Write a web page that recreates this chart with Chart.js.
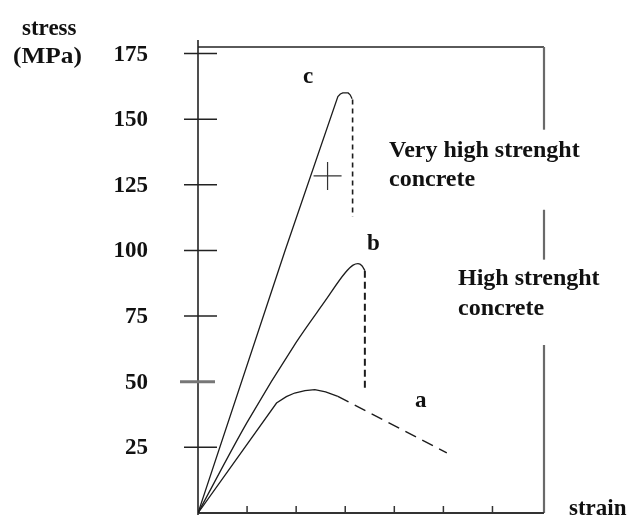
<!DOCTYPE html>
<html>
<head>
<meta charset="utf-8">
<script src="https://cdn.jsdelivr.net/npm/chart.js@4.4.1/dist/chart.umd.min.js"></script>
<style>
  html, body { margin: 0; padding: 0; background: #fff; }
  #wrap { width: 627px; height: 517px; }
</style>
</head>
<body>
<div id="wrap"><canvas id="chart" width="627" height="517"></canvas></div>
<script>
// stress-strain curves, strain in tick units, stress in MPa
const strainA = [0, 1.6, 1.8, 1.97, 2.18, 2.38, 2.6, 2.85]
const stressA = [0, 41.9, 44.3, 45.7, 46.6, 47, 46.1, 44.4]
const strainATail = [2.85, 5.07]
const stressATail = [44.4, 22.9]

const strainB = [0, 1.0, 2.0, 2.58, 3.0, 3.16, 3.26, 3.34, 3.40]
const stressB = [0, 34.5, 65, 80.5, 91.5, 94.4, 95, 94.2, 92.3]
const strainBDrop = [3.40, 3.40]
const stressBDrop = [92.3, 47]

const strainC = [0, 1.78, 2.85, 2.9, 2.95, 3.06, 3.1, 3.14]
const stressC = [0, 100.3, 158.6, 159.6, 160, 160, 159.3, 157.8]
const strainCDrop = [3.15, 3.15]
const stressCDrop = [157.5, 112.8]

const crossStrain = [2.64]
const crossStress = [128.4]

const stressTicks = [25, 50, 75, 100, 125, 150, 175]
const strainTicks = [1, 2, 3, 4, 5, 6]

const pts = (xs, ys) => xs.map((x, i) => ({ x: x, y: ys[i] }))

const ink = '#1c1c1c'
const serif = '"Liberation Serif", "Times New Roman", serif'

const solid = (data, smooth) => ({
  data: data,
  borderColor: ink,
  borderWidth: 1.3,
  pointRadius: 0,
  fill: false,
  cubicInterpolationMode: smooth ? 'monotone' : 'default',
  tension: 0
})

const dashed = (data, dash, width) => ({
  data: data,
  borderColor: ink,
  borderWidth: width,
  borderDash: dash,
  pointRadius: 0,
  fill: false,
  tension: 0
})

// frame, axes, tick marks and labels drawn in the old-textbook style
const framePlugin = {
  id: 'frame',
  beforeDatasetsDraw(chart) {
    const { ctx, chartArea: a, scales: { x, y } } = chart
    ctx.save()
    ctx.lineCap = 'butt'

    // top edge
    ctx.strokeStyle = '#5a5a5a'
    ctx.lineWidth = 2
    ctx.beginPath()
    ctx.moveTo(a.left, a.top)
    ctx.lineTo(a.right, a.top)
    ctx.stroke()

    // right edge, broken in places
    ctx.strokeStyle = '#6a6a6a'
    ctx.lineWidth = 2.2
    const pieces = [[177.5, 146], [115.5, 96.5], [64, 0]]
    pieces.forEach(([from, to]) => {
      ctx.beginPath()
      ctx.moveTo(a.right, y.getPixelForValue(from))
      ctx.lineTo(a.right, y.getPixelForValue(to))
      ctx.stroke()
    })

    // stress axis
    ctx.strokeStyle = '#222'
    ctx.lineWidth = 1.6
    ctx.beginPath()
    ctx.moveTo(a.left, a.top - 7)
    ctx.lineTo(a.left, a.bottom + 2)
    ctx.stroke()

    // strain axis
    ctx.strokeStyle = '#333'
    ctx.lineWidth = 2
    ctx.beginPath()
    ctx.moveTo(a.left, a.bottom)
    ctx.lineTo(a.right, a.bottom)
    ctx.stroke()

    // stress tick marks cross the axis
    stressTicks.forEach(v => {
      const py = y.getPixelForValue(v)
      ctx.strokeStyle = v === 50 ? '#777' : '#222'
      ctx.lineWidth = v === 50 ? 3 : 1.5
      ctx.beginPath()
      ctx.moveTo(a.left - (v === 50 ? 18 : 14), py)
      ctx.lineTo(a.left + (v === 50 ? 17 : 19), py)
      ctx.stroke()
    })

    // strain tick marks point inward
    ctx.strokeStyle = '#333'
    ctx.lineWidth = 1.5
    strainTicks.forEach(v => {
      const px = x.getPixelForValue(v)
      ctx.beginPath()
      ctx.moveTo(px, a.bottom)
      ctx.lineTo(px, a.bottom - 7)
      ctx.stroke()
    })

    // stress tick labels
    ctx.fillStyle = '#111'
    ctx.font = 'bold 23px ' + serif
    ctx.textAlign = 'right'
    ctx.textBaseline = 'middle'
    stressTicks.forEach(v => {
      ctx.fillText(String(v), a.left - 50, y.getPixelForValue(v) + 1)
    })
    ctx.restore()
  },
  afterDraw(chart) {
    const { ctx } = chart
    ctx.save()
    ctx.fillStyle = '#111'
    ctx.textBaseline = 'alphabetic'
    ctx.textAlign = 'left'
    ctx.font = 'bold 23px ' + serif
    ctx.fillText('stress', 22, 35)
    ctx.save()
    ctx.translate(13, 63)
    ctx.scale(1.1, 1)
    ctx.fillText('(MPa)', 0, 0)
    ctx.restore()
    ctx.fillText('strain', 569, 515)

    ctx.fillText('c', 303, 83)
    ctx.fillText('b', 367, 250)
    ctx.fillText('a', 415, 407)

    ctx.font = 'bold 24px ' + serif
    ctx.fillText('Very high strenght', 389, 157)
    ctx.fillText('concrete', 389, 186)
    ctx.fillText('High strenght', 458, 285)
    ctx.fillText('concrete', 458, 315)
    ctx.restore()
  }
}

new Chart(document.getElementById('chart'), {
  type: 'line',
  data: {
    datasets: [
      solid(pts(strainA, stressA), false),
      dashed(pts(strainATail, stressATail), [12, 7], 1.4),
      solid(pts(strainB, stressB), true),
      dashed(pts(strainBDrop, stressBDrop), [7, 4], 2),
      solid(pts(strainC, stressC), false),
      dashed(pts(strainCDrop, stressCDrop), [5, 4], 1.6),
      {
        data: pts(crossStrain, crossStress),
        showLine: false,
        pointStyle: 'cross',
        pointRadius: 14,
        borderColor: '#333',
        borderWidth: 1.2
      }
    ]
  },
  options: {
    responsive: false,
    animation: false,
    devicePixelRatio: 1,
    layout: { autoPadding: false, padding: { top: 47, right: 83, bottom: 4, left: 0 } },
    plugins: {
      legend: { display: false },
      tooltip: { enabled: false }
    },
    scales: {
      x: {
        type: 'linear',
        min: 0,
        max: 7.05,
        display: false
      },
      y: {
        type: 'linear',
        min: 0,
        max: 177.5,
        afterFit(scale) { scale.width = 198 },
        border: { display: false },
        grid: { display: false, drawTicks: false },
        ticks: { display: false, stepSize: 25 }
      }
    }
  },
  plugins: [framePlugin]
})
</script>
</body>
</html>
